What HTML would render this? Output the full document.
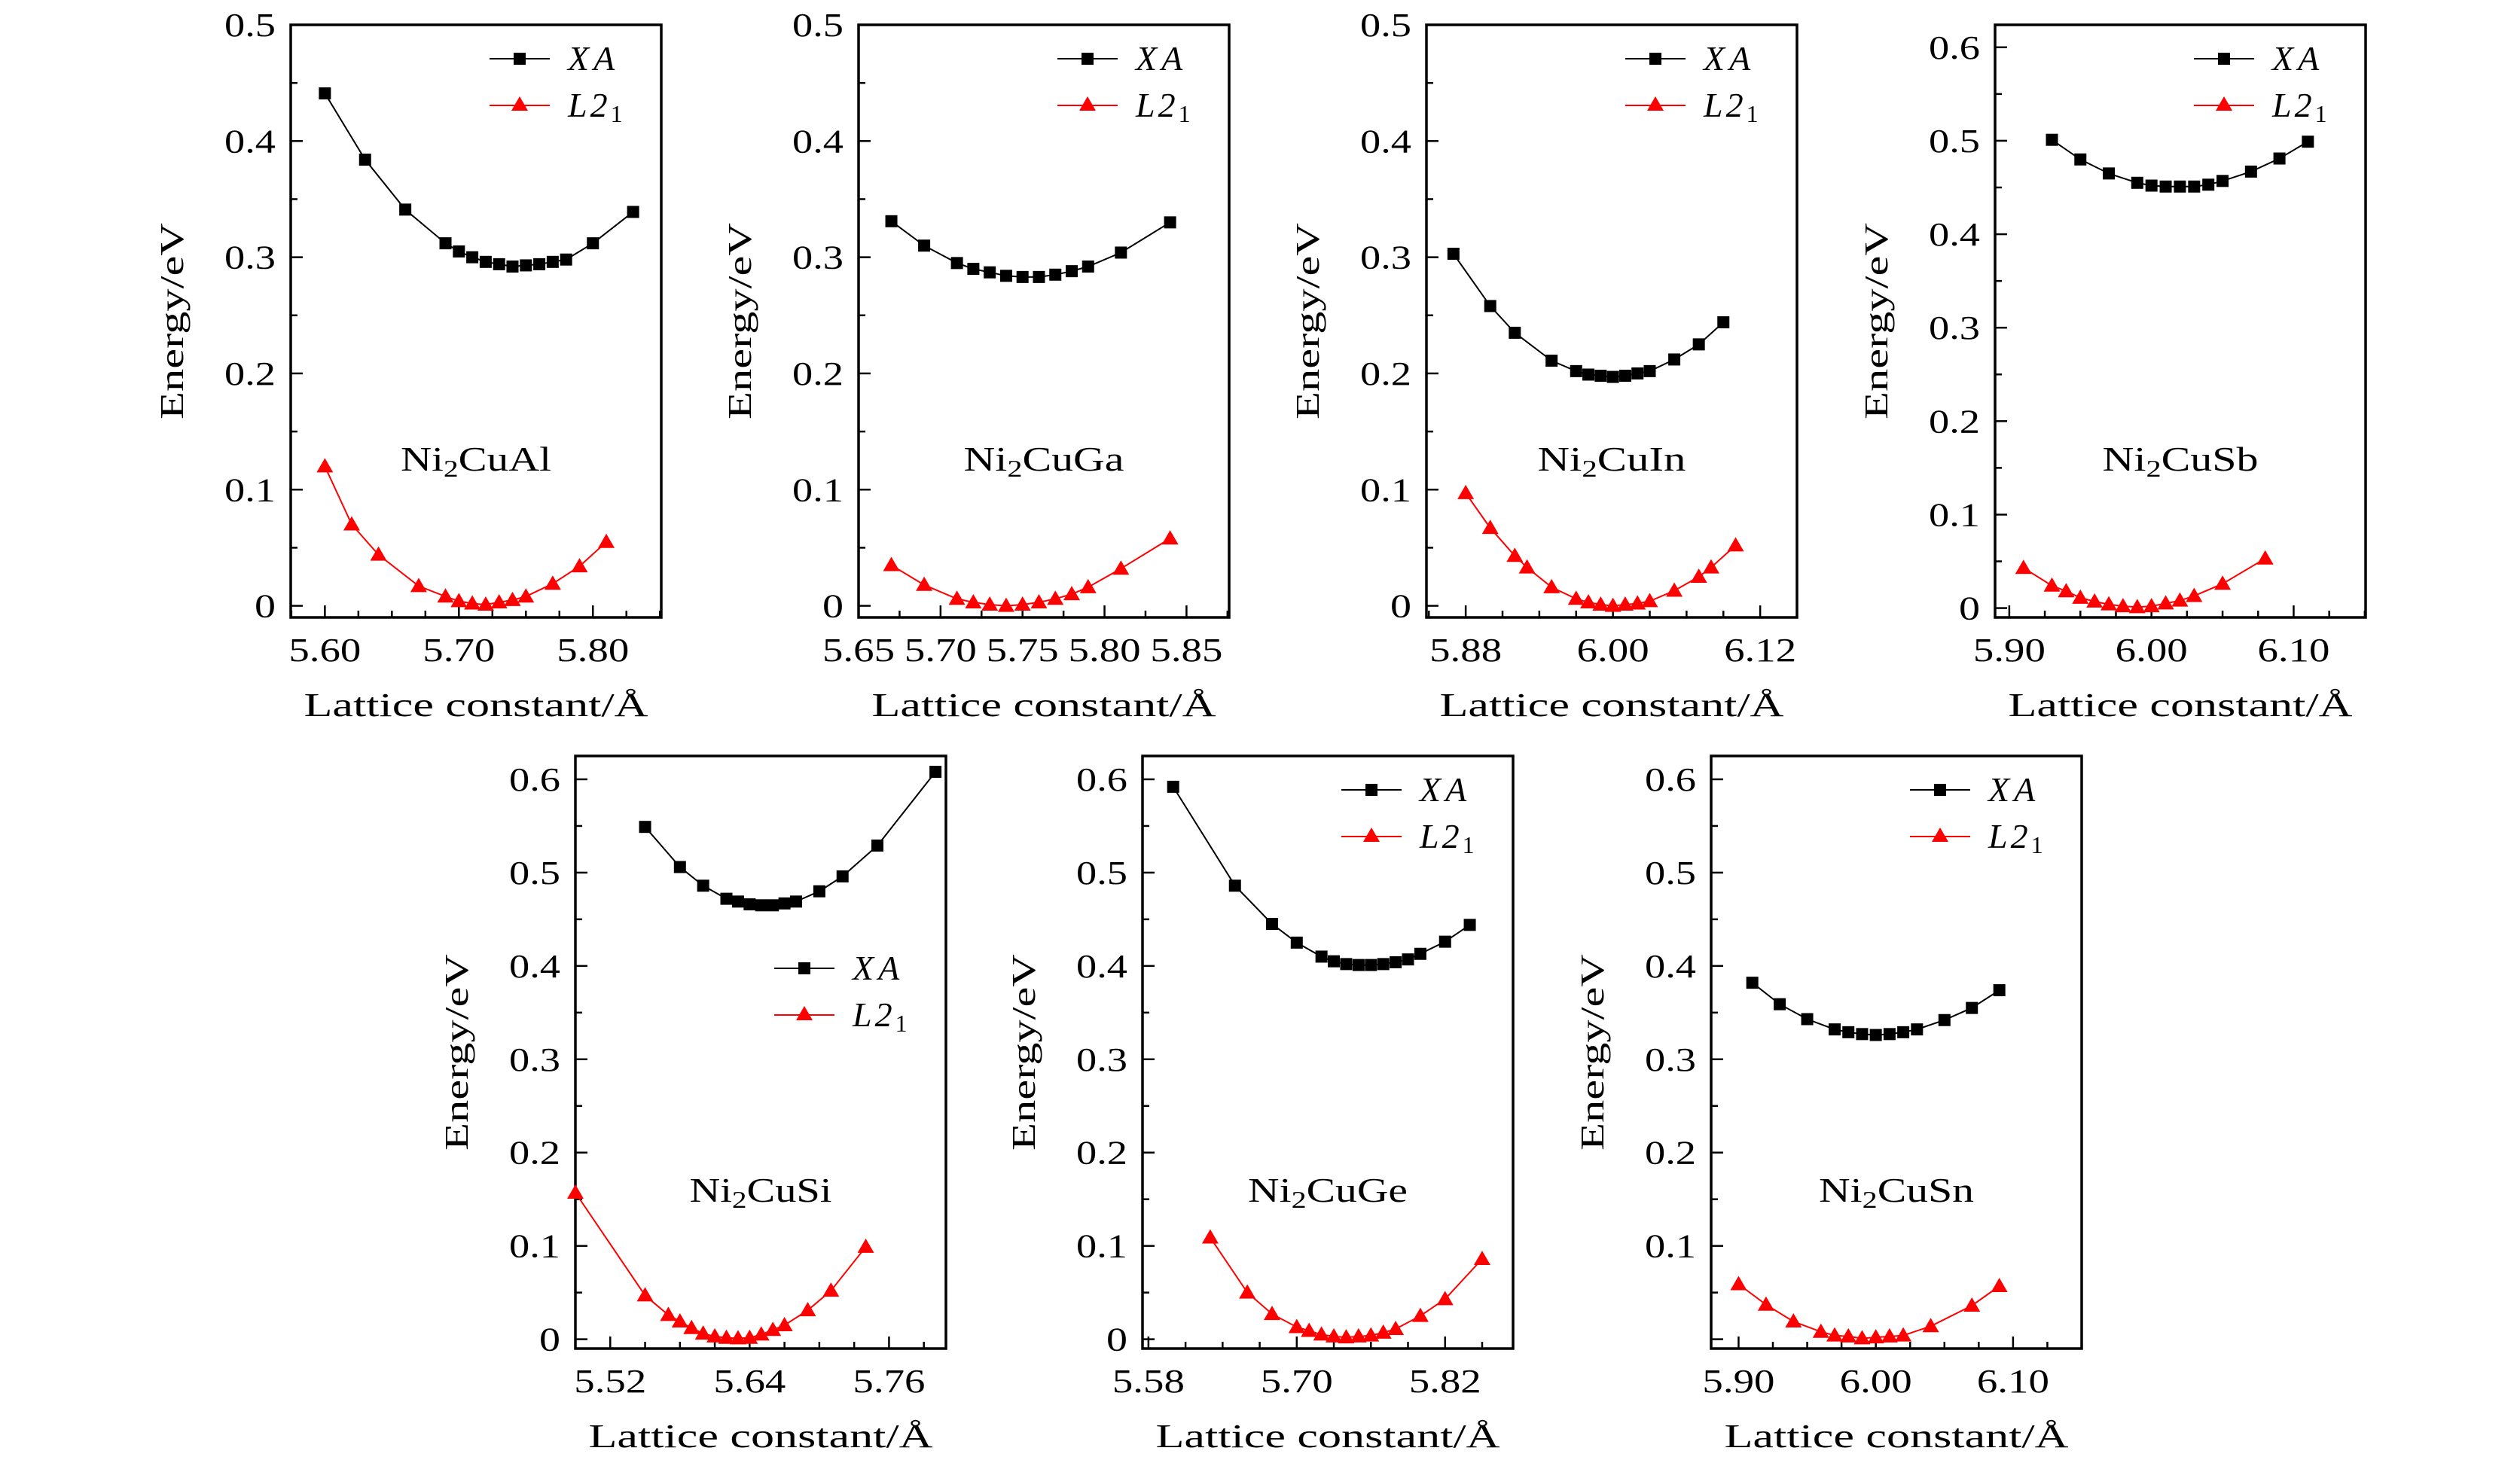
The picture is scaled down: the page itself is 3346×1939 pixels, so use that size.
<!DOCTYPE html>
<html><head><meta charset="utf-8">
<style>
html,body{margin:0;padding:0;background:#fff;}
svg{display:block;}
text{font-family:"Liberation Serif",serif;fill:#000;}
</style></head>
<body>
<svg id="fig" xmlns="http://www.w3.org/2000/svg" width="3346" height="1939" viewBox="0 0 3346 1939"></svg>
<script>
// ---- data (lattice constant in Å, energy in eV) ----
const alXaX=[5.60,5.63,5.66,5.69,5.70,5.71,5.72,5.73,5.74,5.75,5.76,5.77,5.78,5.80,5.83];
const alXaY=[0.441,0.384,0.341,0.312,0.305,0.300,0.296,0.294,0.292,0.293,0.294,0.296,0.298,0.312,0.339];
const alL2X=[5.60,5.62,5.64,5.67,5.69,5.70,5.71,5.72,5.73,5.74,5.75,5.77,5.79,5.81];
const alL2Y=[0.120,0.070,0.044,0.017,0.008,0.004,0.002,0.001,0.003,0.005,0.008,0.019,0.034,0.055];

const gaXaX=[5.67,5.69,5.71,5.72,5.73,5.74,5.75,5.76,5.77,5.78,5.79,5.81,5.84];
const gaXaY=[0.331,0.310,0.295,0.290,0.287,0.284,0.283,0.283,0.285,0.288,0.292,0.304,0.330];
const gaL2X=[5.67,5.69,5.71,5.72,5.73,5.74,5.75,5.76,5.77,5.78,5.79,5.81,5.84];
const gaL2Y=[0.035,0.018,0.006,0.003,0.001,0.000,0.001,0.003,0.006,0.010,0.016,0.032,0.058];

const inXaX=[5.87,5.90,5.92,5.95,5.97,5.98,5.99,6.00,6.01,6.02,6.03,6.05,6.07,6.09];
const inXaY=[0.303,0.258,0.235,0.211,0.202,0.199,0.198,0.197,0.198,0.200,0.202,0.212,0.225,0.244];
const inL2X=[5.88,5.90,5.92,5.93,5.95,5.97,5.98,5.99,6.00,6.01,6.02,6.03,6.05,6.07,6.08,6.10];
const inL2Y=[0.097,0.067,0.043,0.033,0.016,0.006,0.003,0.001,0.000,0.001,0.002,0.004,0.013,0.025,0.033,0.052];

const sbXaX=[5.93,5.95,5.97,5.99,6.00,6.01,6.02,6.03,6.04,6.05,6.07,6.09,6.11];
const sbXaY=[0.501,0.480,0.465,0.455,0.452,0.451,0.451,0.451,0.453,0.457,0.467,0.481,0.499];
const sbL2X=[5.91,5.93,5.94,5.95,5.96,5.97,5.98,5.99,6.00,6.01,6.02,6.03,6.05,6.08];
const sbL2Y=[0.043,0.024,0.018,0.011,0.007,0.004,0.002,0.001,0.002,0.005,0.008,0.013,0.026,0.053];

const siXaX=[5.55,5.58,5.60,5.62,5.63,5.64,5.65,5.66,5.67,5.68,5.70,5.72,5.75,5.80];
const siXaY=[0.549,0.506,0.486,0.472,0.469,0.466,0.465,0.465,0.467,0.469,0.480,0.496,0.529,0.608];
const siL2X=[5.49,5.55,5.57,5.58,5.59,5.60,5.61,5.62,5.63,5.64,5.65,5.66,5.67,5.69,5.71,5.74];
const siL2Y=[0.157,0.047,0.026,0.019,0.012,0.006,0.003,0.0015,0.001,0.0015,0.005,0.010,0.015,0.031,0.052,0.099];

const geXaX=[5.60,5.65,5.68,5.70,5.72,5.73,5.74,5.75,5.76,5.77,5.78,5.79,5.80,5.82,5.84];
const geXaY=[0.592,0.486,0.445,0.425,0.410,0.405,0.402,0.401,0.401,0.402,0.404,0.407,0.413,0.426,0.444];
const geL2X=[5.63,5.66,5.68,5.70,5.71,5.72,5.73,5.74,5.75,5.76,5.77,5.78,5.80,5.82,5.85];
const geL2Y=[0.109,0.050,0.027,0.013,0.009,0.005,0.003,0.002,0.003,0.004,0.007,0.011,0.025,0.043,0.086];

const snXaX=[5.91,5.93,5.95,5.97,5.98,5.99,6.00,6.01,6.02,6.03,6.05,6.07,6.09];
const snXaY=[0.382,0.359,0.343,0.332,0.329,0.327,0.326,0.327,0.329,0.332,0.342,0.355,0.374];
const snL2X=[5.90,5.92,5.94,5.96,5.97,5.98,5.99,6.00,6.01,6.02,6.04,6.07,6.09];
const snL2Y=[0.059,0.037,0.019,0.008,0.004,0.003,0.001,0.002,0.003,0.004,0.014,0.036,0.057];

// tick labels
const alXTicks=['5.60','5.70','5.80'];
const gaXTicks=['5.65','5.70','5.75','5.80','5.85'];
const inXTicks=['5.88','6.00','6.12'];
const sbXTicks=['5.90','6.00','6.10'];
const siXTicks=['5.52','5.64','5.76'];
const geXTicks=['5.58','5.70','5.82'];
const snXTicks=['5.90','6.00','6.10'];
const yTicksHalf=['0','0.1','0.2','0.3','0.4','0.5'];
const yTicksSix=['0','0.1','0.2','0.3','0.4','0.5','0.6'];
const yTicksSixNoZero=['0.1','0.2','0.3','0.4','0.5','0.6'];

const panels=[
 {id:'al',el:'Al',L:386,T:33,xmin:5.5745,xmax:5.851,ymin:-0.01,ymax:0.5,xt:alXTicks,minor:0.025,yt:yTicksHalf,ytop:0.5,xaX:alXaX,xaY:alXaY,l2X:alL2X,l2Y:alL2Y,legY:45,nameW:200},
 {id:'ga',el:'Ga',L:1140,T:33,xmin:5.65,xmax:5.876,ymin:-0.01,ymax:0.5,xt:gaXTicks,minor:0.025,yt:yTicksHalf,ytop:0.5,xaX:gaXaX,xaY:gaXaY,l2X:gaL2X,l2Y:gaL2Y,legY:45,nameW:213},
 {id:'in',el:'In',L:1894,T:33,xmin:5.848,xmax:6.150,ymin:-0.01,ymax:0.5,xt:inXTicks,minor:0.03,yt:yTicksHalf,ytop:0.5,xaX:inXaX,xaY:inXaY,l2X:inL2X,l2Y:inL2Y,legY:45,nameW:197},
 {id:'sb',el:'Sb',L:2649,T:33,xmin:5.890,xmax:6.1506,ymin:-0.01,ymax:0.624,xt:sbXTicks,minor:0.025,yt:yTicksSix,ytop:0.6,xaX:sbXaX,xaY:sbXaY,l2X:sbL2X,l2Y:sbL2Y,legY:45,nameW:207},
 {id:'si',el:'Si',L:764,T:1004,xmin:5.490,xmax:5.809,ymin:-0.01,ymax:0.625,xt:siXTicks,minor:0.03,yt:yTicksSix,ytop:0.6,xaX:siXaX,xaY:siXaY,l2X:siL2X,l2Y:siL2Y,legY:282,nameW:189},
 {id:'ge',el:'Ge',L:1517,T:1004,xmin:5.5752,xmax:5.875,ymin:-0.01,ymax:0.625,xt:geXTicks,minor:0.03,yt:yTicksSix,ytop:0.6,xaX:geXaX,xaY:geXaY,l2X:geL2X,l2Y:geL2Y,legY:45,nameW:212},
 {id:'sn',el:'Sn',L:2272,T:1004,xmin:5.880,xmax:6.150,ymin:-0.01,ymax:0.625,xt:snXTicks,minor:0.025,yt:yTicksSixNoZero,ytop:0.6,xaX:snXaX,xaY:snXaY,l2X:snL2X,l2Y:snL2Y,legY:45,nameW:206}
];
const W=492,H=787;
const NS='http://www.w3.org/2000/svg';
const svg=document.getElementById('fig');
function mk(tag,attrs,parent){const e=document.createElementNS(NS,tag);for(const k in attrs)e.setAttribute(k,attrs[k]);parent.appendChild(e);return e;}
function numW(s){let w=0;for(const c of s)w+=(c==='.')?12:28;return w;}

panels.forEach(p=>{
  const g=mk('g',{},svg);
  
  
  const sx=v=>p.L+(v-p.xmin)/(p.xmax-p.xmin)*W;
  const sy=v=>p.T+H-(v-p.ymin)/(p.ymax-p.ymin)*H;
  const B=p.T+H;
  // x ticks
  const x0=parseFloat(p.xt[0]);
  let kStart=Math.ceil((p.xmin-x0)/p.minor-1e-9);
  for(let k=kStart; x0+k*p.minor<=p.xmax+1e-9; k++){
    const v=x0+k*p.minor;
    const isMaj=p.xt.some(t=>Math.abs(parseFloat(t)-v)<1e-6);
    const X=sx(v);
    const t=mk('line',{x1:X,x2:X,y1:B,y2:B-(isMaj?16:9),stroke:'#000','stroke-width':2.5},g);
    
    
  }
  p.xt.forEach(s=>{
    const t=mk('text',{x:sx(parseFloat(s)),y:B+58,'font-size':44,'text-anchor':'middle',textLength:numW(s),lengthAdjust:'spacingAndGlyphs'},g);
    t.textContent=s;
    
    
  });
  // y ticks
  for(let v=0; v<=p.ytop+1e-9; v+=0.05){
    const isMaj=Math.abs(v*10-Math.round(v*10))<1e-6;
    const Y=sy(v);
    const t=mk('line',{x1:p.L,x2:p.L+(isMaj?16:9),y1:Y,y2:Y,stroke:'#000','stroke-width':2.5},g);
    
    
  }
  p.yt.forEach(s=>{
    const t=mk('text',{x:p.L-20,y:sy(parseFloat(s))+15,'font-size':44,'text-anchor':'end',textLength:numW(s),lengthAdjust:'spacingAndGlyphs'},g);
    t.textContent=s;
    
    
  });
  // frame
  const fr=mk('rect',{x:p.L,y:p.T,width:W,height:H,fill:'none',stroke:'#000','stroke-width':3.5},g);
  
  
  // axis titles
  const xt=mk('text',{x:p.L+W/2,y:B+131,'font-size':44,'text-anchor':'middle',textLength:457,lengthAdjust:'spacingAndGlyphs'},g);
  xt.textContent='Lattice constant/Å';
  
  
  const cy=p.T+H/2;
  const yt=mk('text',{x:p.L-143,y:cy,'font-size':44,'text-anchor':'middle',textLength:261,lengthAdjust:'spacingAndGlyphs',transform:'rotate(-90 '+(p.L-143)+' '+cy+')'},g);
  yt.textContent='Energy/eV';
  
  
  // compound label
  const cl=mk('text',{x:p.L+W/2,y:p.T+592,'font-size':46,'text-anchor':'middle',textLength:p.nameW,lengthAdjust:'spacingAndGlyphs'},g);
  
  
  cl.appendChild(document.createTextNode('Ni'));
  const sub=mk('tspan',{'font-size':32,dy:8},cl); sub.textContent='2';
  const rest=mk('tspan',{dy:-8},cl); rest.textContent='Cu'+p.el;
  // series
  const series=[{xs:p.xaX,ys:p.xaY,c:'#000',m:'sq',n:'xa'},{xs:p.l2X,ys:p.l2Y,c:'#ff0000',m:'tri',n:'l21'}];
  series.forEach(s=>{
    const pts=s.xs.map((x,i)=>sx(x).toFixed(1)+','+sy(s.ys[i]).toFixed(1)).join(' ');
    const pl=mk('polyline',{points:pts,fill:'none',stroke:s.c,'stroke-width':2},g);
    
    
    s.xs.forEach((x,i)=>{
      const X=sx(x),Y=sy(s.ys[i]);
      let mEl;
      if(s.m==='sq'){mEl=mk('rect',{x:X-8,y:Y-8,width:16,height:16,fill:s.c},g);}
      else{mEl=mk('polygon',{points:(X-11)+','+(Y+8)+' '+(X+11)+','+(Y+8)+' '+X+','+(Y-11),fill:s.c},g);}
      
      
    });
  });
  // legend
  const R=p.L+W;
  [{y:p.T+p.legY,c:'#000',m:'sq',n:'xa'},{y:p.T+p.legY+62,c:'#ff0000',m:'tri',n:'l21'}].forEach(e=>{
    const lg=mk('g',{},g);
    
    
    mk('line',{x1:R-228,x2:R-148,y1:e.y,y2:e.y,stroke:e.c,'stroke-width':2},lg);
    const X=R-188;
    if(e.m==='sq')mk('rect',{x:X-8,y:e.y-8,width:16,height:16,fill:e.c},lg);
    else mk('polygon',{points:(X-11)+','+(e.y+7)+' '+(X+11)+','+(e.y+7)+' '+X+','+(e.y-12),fill:e.c},lg);
    const tx=mk('text',{x:R-124,y:e.y+15,'font-size':46},lg);
    if(e.n==='xa'){
      const a=mk('tspan',{'font-style':'italic','letter-spacing':6},tx); a.textContent='XA';
    } else {
      const a=mk('tspan',{'font-style':'italic','letter-spacing':4},tx); a.textContent='L2';
      const b=mk('tspan',{'font-size':32,dy:7},tx); b.textContent='1';
    }
  });
});
</script>
</body></html>
